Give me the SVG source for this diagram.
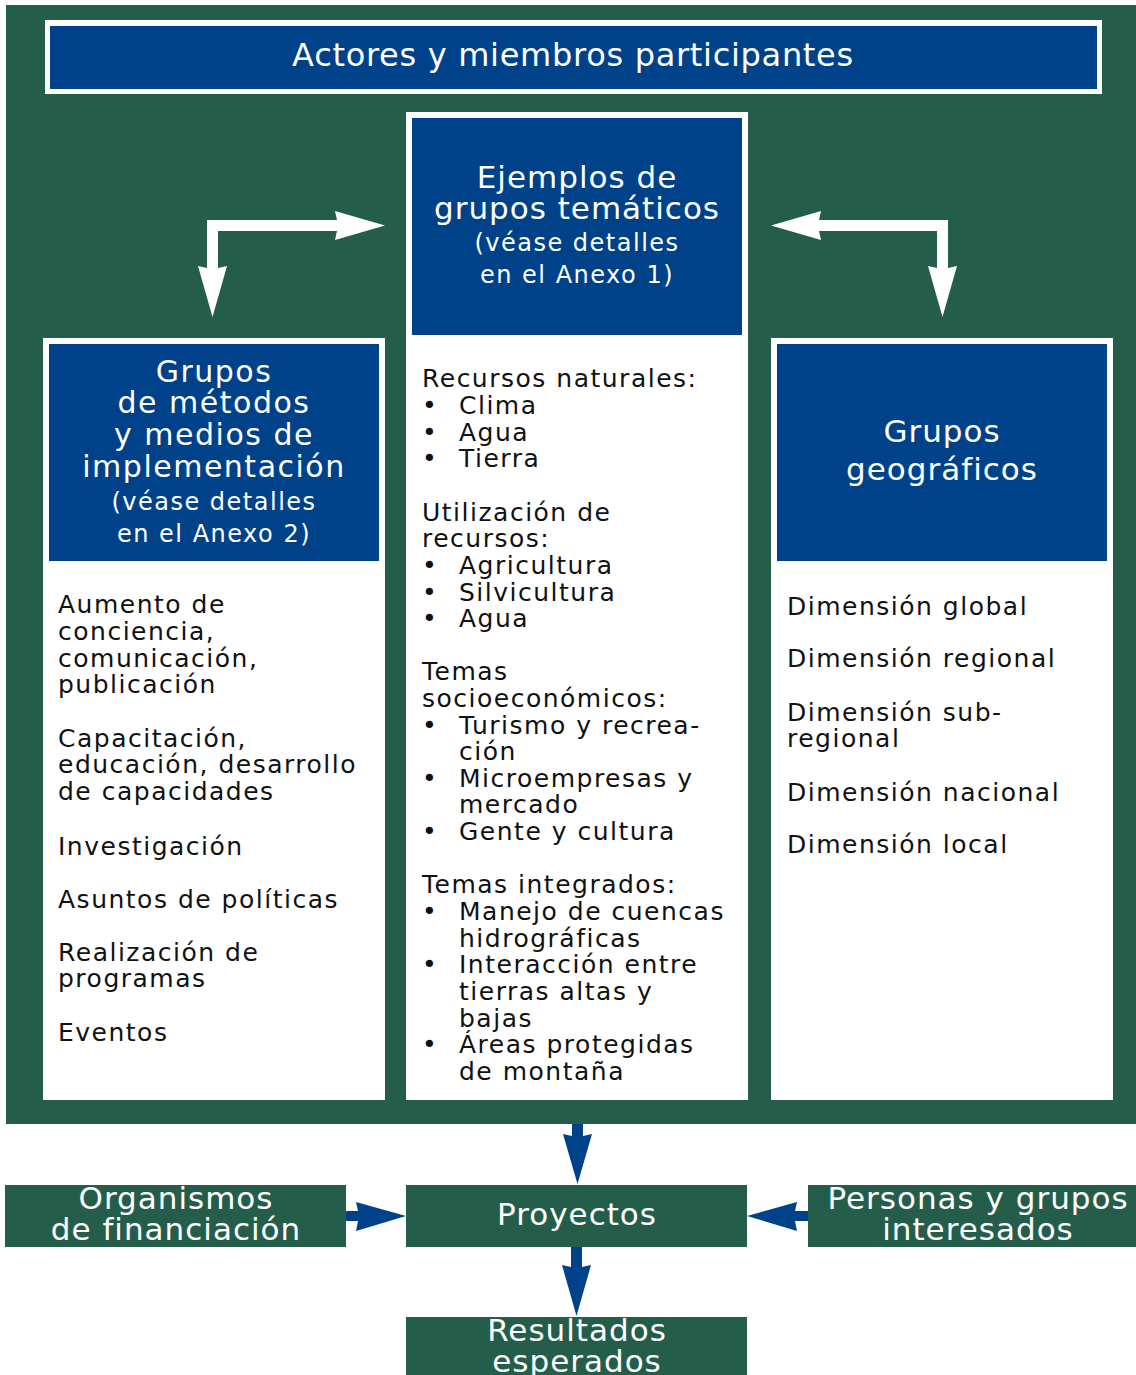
<svg xmlns="http://www.w3.org/2000/svg" width="1136" height="1375" viewBox="0 0 1136 1375">
<style>
.bg{fill:#245e4a}
.blue{fill:#00428a}
.white{fill:#ffffff}
text{font-family:"DejaVu Sans","Liberation Sans",sans-serif}
.hd{fill:#ffffff;font-size:31px;letter-spacing:1px;text-anchor:middle}
.sm{fill:#ffffff;font-size:24px;letter-spacing:1.5px;text-anchor:middle}
.bd{fill:#111111;font-size:25px;letter-spacing:1.5px}
.bt{fill:#ffffff;font-size:31px;letter-spacing:1px;text-anchor:middle}
.wa{fill:#ffffff}
.ba{fill:#00428a}
</style>
<rect x="0" y="0" width="1136" height="1375" fill="#ffffff"/>
<rect id="frame" class="bg" x="6" y="5" width="1130" height="1119"/>

<g id="actores">
<rect class="white" x="45" y="20" width="1057" height="74"/>
<rect class="blue" x="50" y="26" width="1047" height="63"/>
<text class="hd" x="573" y="66" style="font-size:32px;letter-spacing:0.7px">Actores y miembros participantes</text>
</g>

<g id="tematicos">
<rect class="white" x="406" y="112" width="342" height="988"/>
<rect class="blue" x="412" y="118" width="330" height="217"/>
<text class="hd" x="577" y="188">Ejemplos de</text>
<text class="hd" x="577" y="219">grupos temáticos</text>
<text class="sm" x="577" y="251">(véase detalles</text>
<text class="sm" x="577" y="283">en el Anexo 1)</text>
<g class="bd">
<text x="422" y="387">Recursos naturales:</text>
<text x="422" y="414">•</text><text x="459" y="414">Clima</text>
<text x="422" y="441">•</text><text x="459" y="441">Agua</text>
<text x="422" y="467">•</text><text x="459" y="467">Tierra</text>
<text x="422" y="521">Utilización de</text>
<text x="422" y="547">recursos:</text>
<text x="422" y="574">•</text><text x="459" y="574">Agricultura</text>
<text x="422" y="601">•</text><text x="459" y="601">Silvicultura</text>
<text x="422" y="627">•</text><text x="459" y="627">Agua</text>
<text x="422" y="680">Temas</text>
<text x="422" y="707">socioeconómicos:</text>
<text x="422" y="734">•</text><text x="459" y="734">Turismo y recrea-</text>
<text x="459" y="760">ción</text>
<text x="422" y="787">•</text><text x="459" y="787">Microempresas y</text>
<text x="459" y="813">mercado</text>
<text x="422" y="840">•</text><text x="459" y="840">Gente y cultura</text>
<text x="422" y="893">Temas integrados:</text>
<text x="422" y="920">•</text><text x="459" y="920">Manejo de cuencas</text>
<text x="459" y="947">hidrográficas</text>
<text x="422" y="973">•</text><text x="459" y="973">Interacción entre</text>
<text x="459" y="1000">tierras altas y</text>
<text x="459" y="1027">bajas</text>
<text x="422" y="1053">•</text><text x="459" y="1053">Áreas protegidas</text>
<text x="459" y="1080">de montaña</text>
</g>
</g>

<g id="metodos">
<rect class="white" x="43" y="338" width="342" height="762"/>
<rect class="blue" x="49" y="344" width="330" height="217"/>
<text class="hd" x="214" y="382" style="font-size:30px;letter-spacing:1.5px">Grupos</text>
<text class="hd" x="214" y="413" style="font-size:30px;letter-spacing:1.5px">de métodos</text>
<text class="hd" x="214" y="445" style="font-size:30px;letter-spacing:1.5px">y medios de</text>
<text class="hd" x="214" y="477" style="font-size:30px;letter-spacing:1.5px">implementación</text>
<text class="sm" x="214" y="510">(véase detalles</text>
<text class="sm" x="214" y="542">en el Anexo 2)</text>
<g class="bd">
<text x="58" y="613">Aumento de</text>
<text x="58" y="640">conciencia,</text>
<text x="58" y="667">comunicación,</text>
<text x="58" y="693">publicación</text>
<text x="58" y="747">Capacitación,</text>
<text x="58" y="773">educación, desarrollo</text>
<text x="58" y="800">de capacidades</text>
<text x="58" y="855">Investigación</text>
<text x="58" y="908">Asuntos de políticas</text>
<text x="58" y="961">Realización de</text>
<text x="58" y="987">programas</text>
<text x="58" y="1041">Eventos</text>
</g>
</g>

<g id="geograficos">
<rect class="white" x="771" y="338" width="342" height="762"/>
<rect class="blue" x="777" y="344" width="330" height="217"/>
<text class="hd" x="942" y="442">Grupos</text>
<text class="hd" x="942" y="480">geográficos</text>
<g class="bd">
<text x="787" y="615">Dimensión global</text>
<text x="787" y="667">Dimensión regional</text>
<text x="787" y="721">Dimensión sub-</text>
<text x="787" y="747">regional</text>
<text x="787" y="801">Dimensión nacional</text>
<text x="787" y="853">Dimensión local</text>
</g>
</g>

<g id="organismos">
<rect class="bg" x="5" y="1185" width="341" height="62"/>
<text class="bt" x="176" y="1209">Organismos</text>
<text class="bt" x="176" y="1240">de financiación</text>
</g>

<g id="proyectos">
<rect class="bg" x="406" y="1185" width="341" height="62"/>
<text class="bt" x="577" y="1225">Proyectos</text>
</g>

<g id="personas">
<rect class="bg" x="808" y="1185" width="328" height="62"/>
<text class="bt" x="978" y="1209">Personas y grupos</text>
<text class="bt" x="978" y="1240">interesados</text>
</g>

<g id="resultados">
<rect class="bg" x="406" y="1317" width="341" height="58"/>
<text class="bt" x="577" y="1341">Resultados</text>
<text class="bt" x="577" y="1372">esperados</text>
</g>

<g id="connectors">
<path class="wa" d="M207,220 H337 L335,211 L385,225.5 L335,240 L337,231 H218 V268 L227,266 L212.5,317 L198,266 L207,268 Z"/>
<path class="wa" d="M948,220 H819 L821,211 L771,225.5 L821,240 L819,231 H937 V268 L928,266 L942.5,317 L957,266 L948,268 Z"/>
<path class="ba" d="M572,1124 H583 V1136 L592,1134 L577.5,1184 L563,1134 L572,1136 Z"/>
<path class="ba" d="M571,1247 H582 V1267 L591,1265 L576.5,1316 L562,1265 L571,1267 Z"/>
<path class="ba" d="M346,1211 H358 L356,1202 L406,1216 L356,1231 L358,1221 H346 Z"/>
<path class="ba" d="M808,1211 H795 L797,1202 L747,1216 L797,1231 L795,1221 H808 Z"/>
</g>
</svg>
